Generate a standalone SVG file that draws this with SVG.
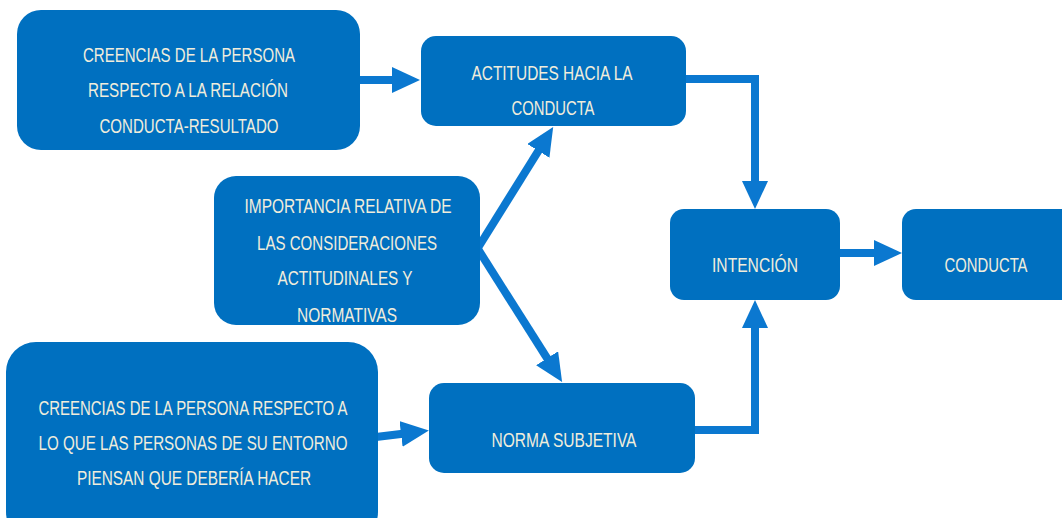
<svg xmlns="http://www.w3.org/2000/svg" width="1062" height="518" viewBox="0 0 1062 518">
<style>
.box{fill:#0070C0;}
.t{font-family:"Liberation Sans",Arial,sans-serif;font-size:20px;fill:#F0EDDC;text-anchor:middle;}
.c{fill:none;stroke:#0B78D0;stroke-width:8;stroke-linejoin:miter;}
</style>
<defs>
<marker id="ah" markerUnits="userSpaceOnUse" markerWidth="28" markerHeight="26" refX="8" refY="13" orient="auto" viewBox="0 0 28 26">
<path d="M0,0 L28,13 L0,26 z" fill="#0B78D0"/>
</marker>
</defs>
<rect width="1062" height="518" fill="#ffffff"/>
<g id="connectors">
<line class="c" x1="358" y1="80" x2="400" y2="80" marker-end="url(#ah)"/>
<polyline class="c" points="684,79 755,79 755,189" marker-end="url(#ah)"/>
<line class="c" x1="838" y1="253" x2="882" y2="253" marker-end="url(#ah)"/>
<polyline class="c" points="693,430 755,430 755,320" marker-end="url(#ah)"/>
<line class="c" x1="376" y1="437" x2="409" y2="433" marker-end="url(#ah)"/>
<line class="c" x1="476" y1="251" x2="542.6" y2="144.1" marker-end="url(#ah)"/>
<line class="c" x1="476" y1="246" x2="551.4" y2="365" marker-end="url(#ah)"/>
</g>
<g id="n1">
<rect class="box" x="17" y="10" width="343" height="140" rx="24"/>
<text class="t" x="189" y="62" textLength="212" lengthAdjust="spacingAndGlyphs">CREENCIAS DE LA PERSONA</text>
<text class="t" x="188" y="97" textLength="200" lengthAdjust="spacingAndGlyphs">RESPECTO A LA RELACIÓN</text>
<text class="t" x="189" y="133" textLength="179" lengthAdjust="spacingAndGlyphs">CONDUCTA-RESULTADO</text>
</g>
<g id="n2">
<rect class="box" x="421" y="36" width="265" height="90" rx="15"/>
<text class="t" x="552" y="80" textLength="161" lengthAdjust="spacingAndGlyphs">ACTITUDES HACIA LA</text>
<text class="t" x="553" y="115" textLength="83" lengthAdjust="spacingAndGlyphs">CONDUCTA</text>
</g>
<g id="n3">
<rect class="box" x="214" y="176" width="266" height="149" rx="22"/>
<text class="t" x="348" y="213" textLength="207" lengthAdjust="spacingAndGlyphs">IMPORTANCIA RELATIVA DE</text>
<text class="t" x="347" y="250" textLength="180" lengthAdjust="spacingAndGlyphs">LAS CONSIDERACIONES</text>
<text class="t" x="345" y="285" textLength="135" lengthAdjust="spacingAndGlyphs">ACTITUDINALES Y</text>
<text class="t" x="347" y="322" textLength="100" lengthAdjust="spacingAndGlyphs">NORMATIVAS</text>
</g>
<g id="n4">
<rect class="box" x="670" y="209" width="170" height="91" rx="14"/>
<text class="t" x="755" y="272" textLength="86" lengthAdjust="spacingAndGlyphs">INTENCIÓN</text>
</g>
<g id="n5">
<rect class="box" x="902" y="209" width="175" height="91" rx="14"/>
<text class="t" x="986" y="272" textLength="83" lengthAdjust="spacingAndGlyphs">CONDUCTA</text>
</g>
<g id="n6">
<rect class="box" x="6" y="342" width="372" height="200" rx="30"/>
<text class="t" x="193" y="415" textLength="309" lengthAdjust="spacingAndGlyphs">CREENCIAS DE LA PERSONA RESPECTO A</text>
<text class="t" x="193" y="450" textLength="309" lengthAdjust="spacingAndGlyphs">LO QUE LAS PERSONAS DE SU ENTORNO</text>
<text class="t" x="194" y="485" textLength="234" lengthAdjust="spacingAndGlyphs">PIENSAN QUE DEBERÍA HACER</text>
</g>
<g id="n7">
<rect class="box" x="429" y="383" width="266" height="90" rx="15"/>
<text class="t" x="564" y="447" textLength="145" lengthAdjust="spacingAndGlyphs">NORMA SUBJETIVA</text>
</g>
</svg>
